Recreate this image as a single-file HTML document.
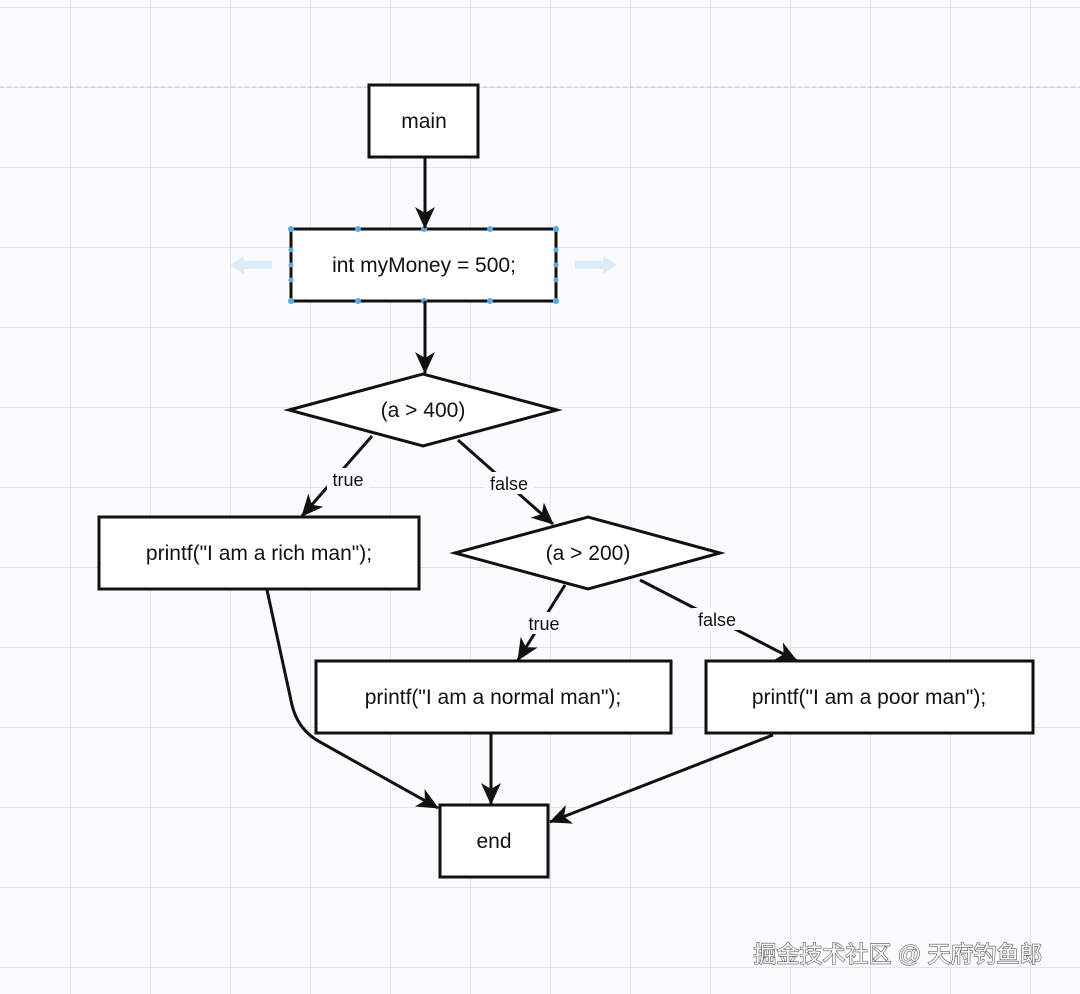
<!DOCTYPE html>
<html><head><meta charset="utf-8"><style>
html,body{margin:0;padding:0;background:#fafbfd}
svg{display:block}
text{font-family:"Liberation Sans",Arial,sans-serif;fill:#111}
</style></head><body>
<svg width="1080" height="994" viewBox="0 0 1080 994" xmlns="http://www.w3.org/2000/svg">
<defs>
<pattern id="g" x="70" y="7" width="80" height="80" patternUnits="userSpaceOnUse">
<path d="M0 0H80M0 0V80" stroke="#d9dce1" stroke-width="1.5" fill="none"/>
</pattern>
<marker id="a" markerWidth="24" markerHeight="20" refX="21" refY="10" orient="auto" markerUnits="userSpaceOnUse">
<path d="M0 0 L22 10 L0 20 L6 10 Z" fill="#111"/>
</marker>
</defs>
<rect width="1080" height="994" fill="#fafbfd"/>
<rect width="1080" height="994" fill="url(#g)"/>
<line x1="0" y1="87" x2="1080" y2="87" stroke="#c0c3c8" stroke-width="1" stroke-dasharray="4,3"/>

<g fill="#fff" stroke="#111" stroke-width="3">
<rect x="369" y="85" width="109" height="72"/>
<rect x="291" y="229" width="265" height="72"/>
<polygon points="289,410 423,374 557,410 423,446"/>
<rect x="99" y="517" width="320" height="72"/>
<polygon points="455,553 588,517 720,553 588,589"/>
<rect x="316" y="661" width="355" height="72"/>
<rect x="706" y="661" width="327" height="72"/>
<rect x="440" y="805" width="108" height="72"/>
</g>

<g fill="#5aa9e6">
<circle cx="291" cy="229" r="3"/><circle cx="358" cy="229" r="3"/><circle cx="424" cy="229" r="3"/><circle cx="490" cy="229" r="3"/><circle cx="556" cy="229" r="3"/>
<circle cx="291" cy="301" r="3"/><circle cx="358" cy="301" r="3"/><circle cx="424" cy="301" r="3"/><circle cx="490" cy="301" r="3"/><circle cx="556" cy="301" r="3"/>
<circle cx="291" cy="250" r="2.5"/><circle cx="291" cy="265" r="2.5"/><circle cx="291" cy="280" r="2.5"/>
<circle cx="556" cy="250" r="2.5"/><circle cx="556" cy="265" r="2.5"/><circle cx="556" cy="280" r="2.5"/>
</g>
<g fill="#dcebf6">
<polygon points="230,265 244,256 244,261 272,261 272,269 244,269 244,274"/>
<polygon points="617,265 603,256 603,261 575,261 575,269 603,269 603,274"/>
</g>

<g stroke="#111" stroke-width="3" fill="none" marker-end="url(#a)">
<line x1="425" y1="157" x2="425" y2="228"/>
<line x1="425" y1="301" x2="425" y2="373"/>
<line x1="372" y1="436" x2="302" y2="516"/>
<line x1="458" y1="440" x2="553" y2="524"/>
<line x1="565" y1="585" x2="518" y2="660"/>
<line x1="640" y1="580" x2="797" y2="661"/>
<path d="M267 590 L292 705 Q298 730 320 742 L438 808"/>
<line x1="491" y1="733" x2="491" y2="804"/>
<line x1="773" y1="735" x2="550" y2="822"/>
</g>

<g font-size="21" text-anchor="middle">
<text x="424" y="128">main</text>
<text x="424" y="272">int myMoney = 500;</text>
<text x="423" y="417">(a &gt; 400)</text>
<text x="259" y="560">printf("I am a rich man");</text>
<text x="588" y="560">(a &gt; 200)</text>
<text x="493" y="704">printf("I am a normal man");</text>
<text x="869" y="704">printf("I am a poor man");</text>
<text x="494" y="848">end</text>
</g>
<g font-size="18" text-anchor="middle">
<rect x="327" y="468" width="42" height="22" fill="#fafbfd"/>
<text x="348" y="486">true</text>
<rect x="484" y="472" width="50" height="22" fill="#fafbfd"/>
<text x="509" y="490">false</text>
<rect x="523" y="612" width="42" height="22" fill="#fafbfd"/>
<text x="544" y="630">true</text>
<rect x="692" y="608" width="50" height="22" fill="#fafbfd"/>
<text x="717" y="626">false</text>
</g>
<text x="898" y="962" font-size="23" text-anchor="middle" style="font-family:'Liberation Sans','Noto Sans CJK SC',sans-serif;fill:#fff;stroke:#555;stroke-width:1.2;paint-order:stroke">掘金技术社区 @ 天府钓鱼郎</text>
</svg>
</body></html>
